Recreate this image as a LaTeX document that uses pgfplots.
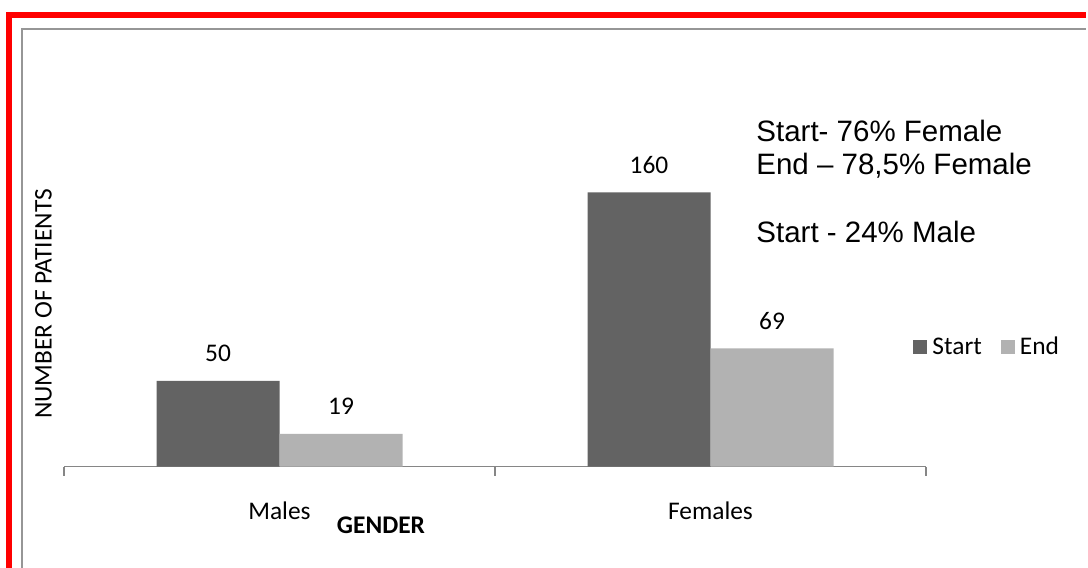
\documentclass[border=0pt]{standalone}
\usepackage{pgfplots}
\pgfplotsset{compat=1.18}
\usepackage{fontspec}
\setmainfont{Carlito}
\newfontfamily\arialfont{Liberation Sans}
\definecolor{startgray}{RGB}{99,99,99}
\definecolor{endgray}{RGB}{178,178,178}
\definecolor{axisgray}{RGB}{134,134,134}
\definecolor{framegray}{RGB}{150,150,150}
\newcommand\lblfont{\fontsize{12.7}{15}\selectfont}
\newcommand\notefont{\arialfont\fontsize{14.75}{17}\selectfont}

\begin{document}
\begin{tikzpicture}
% page extent and frames
\useasboundingbox (0,0) rectangle (544pt,-284pt);
\fill[red] (3pt,-284pt) rectangle (6pt,-6pt);
\fill[red] (3pt,-6pt) rectangle (543pt,-9pt);
\fill[framegray] (10.5pt,-284pt) rectangle (11.5pt,-14pt);
\fill[framegray] (10.5pt,-14pt) rectangle (543pt,-15pt);

\begin{axis}[
  at={(32pt,-233.25pt)}, anchor=south west,
  scale only axis, width=431pt, height=171.3pt,
  xmin=-0.5, xmax=1.5, ymin=0, ymax=200,
  axis y line=none, axis x line*=bottom,
  x axis line style={axisgray, line width=0.8pt, -},
  xtick={0,1}, xticklabels={Males,Females},
  major tick length=0pt,
  extra x ticks={-0.5,0.5,1.5}, extra x tick labels={},
  extra x tick style={major tick length=4.5pt, tick align=outside,
    tick style={axisgray, line width=0.8pt}},
  xticklabel style={font=\lblfont, anchor=base, yshift=-26.5pt, inner sep=0pt},
  /pgf/number format/assume math mode=true,
  ybar=0pt, bar width=61.5pt,
  nodes near coords,
  nodes near coords style={font=\lblfont, anchor=base, yshift=9.5pt, inner sep=0pt, text=black},
  clip=false,
  legend columns=2,
  legend image code/.code={\fill[#1] (0pt,0.3pt) rectangle (7pt,7.3pt);},
  legend style={at={(0.985,0.349)}, anchor=west, draw=none, fill=none,
    inner sep=0pt, font=\lblfont,
    nodes={inner xsep=2.5pt, inner ysep=0pt, anchor=base west},
    /tikz/every even column/.append style={column sep=7pt}},
]
\addplot[fill=startgray, draw=none] coordinates {(0,50) (1,160)};
\addlegendentry{Start}
\addplot[fill=endgray, draw=none] coordinates {(0,19) (1,69)};
\addlegendentry{End}
\end{axis}

% axis titles
\node[rotate=90, anchor=base, inner sep=0pt, font=\lblfont] at (25.85pt,-152pt) {NUMBER OF PATIENTS};
\node[anchor=base, inner sep=0pt, font=\lblfont\bfseries] at (190.5pt,-266.5pt) {GENDER};

% percentage notes
\node[anchor=base west, inner sep=0pt, font=\notefont] at (378pt,-70.85pt) {Start- 76\% Female};
\node[anchor=base west, inner sep=0pt, font=\notefont] at (378pt,-87pt) {End – 78,5\% Female};
\node[anchor=base west, inner sep=0pt, font=\notefont] at (378pt,-121.35pt) {Start - 24\% Male};
\end{tikzpicture}
\end{document}
